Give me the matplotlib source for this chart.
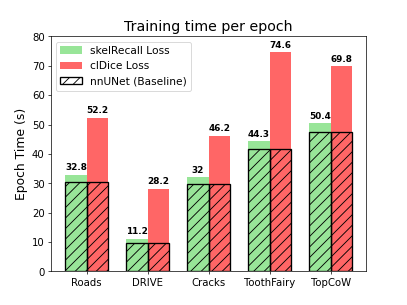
import matplotlib
matplotlib.use("Agg")
import matplotlib.pyplot as plt
import numpy as np

categories = ["Roads", "DRIVE", "Cracks", "ToothFairy", "TopCoW"]
skel_recall = [32.8, 11.2, 32, 44.3, 50.4]
cldice = [52.2, 28.2, 46.2, 74.6, 69.8]
baseline = [30.3, 9.8, 29.7, 41.7, 47.5]
skel_labels = ["32.8", "11.2", "32", "44.3", "50.4"]
cldice_labels = ["52.2", "28.2", "46.2", "74.6", "69.8"]

fig, ax = plt.subplots(figsize=(6.4, 4.8), dpi=63.6)
x = np.arange(len(categories))
w = 0.35

green = "limegreen"
red = "red"
ax.bar(x - w/2, skel_recall, w, color=green, alpha=0.5, label="skelRecall Loss")
ax.bar(x + w/2, cldice, w, color=red, alpha=0.6, label="clDice Loss")
ax.bar(x - w/2, baseline, w, fill=False, hatch="//", edgecolor="black", linewidth=1.5,
       label="nnUNet (Baseline)")
ax.bar(x + w/2, baseline, w, fill=False, hatch="//", edgecolor="black", linewidth=1.5)

for xi, v, t in zip(x - w/2, skel_recall, skel_labels):
    ax.text(xi, v + 1, t, ha="center", va="bottom", fontweight="bold", fontsize=10)
for xi, v, t in zip(x + w/2, cldice, cldice_labels):
    ax.text(xi, v + 1, t, ha="center", va="bottom", fontweight="bold", fontsize=10)

ax.set_xticks(x)
ax.set_xticklabels(categories)
ax.tick_params(labelsize=11.5)
ax.set_ylim(0, 80)
ax.set_ylabel("Epoch Time (s)", fontsize=14)
ax.set_title("Training time per epoch", fontsize=16)
ax.legend(loc="upper left", fontsize=12)

fig.savefig("out.png", dpi=63.6)
